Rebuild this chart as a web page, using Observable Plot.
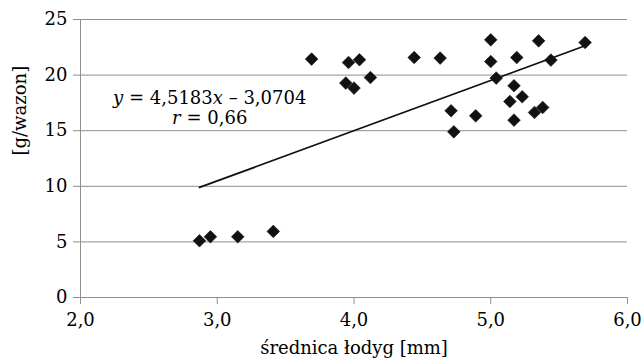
<!DOCTYPE html>
<html lang="pl">
<head>
<meta charset="utf-8">
<script src="https://cdn.jsdelivr.net/npm/d3@7"></script>
<script src="https://cdn.jsdelivr.net/npm/@observablehq/plot@0.6"></script>
<style>
  html, body { margin: 0; padding: 0; background: #fff; }
  #chart svg { display: block; }
</style>
</head>
<body>
<div id="chart"></div>
<script>
// Stem diameter [mm] and plant mass [g/pot] for each pot
const diameter = [
  2.87, 2.95, 3.15, 3.41,
  3.69, 3.94, 3.96, 4.00, 4.04, 4.12,
  4.44, 4.63,
  4.71, 4.73, 4.89,
  5.00, 5.00, 5.04,
  5.14, 5.17, 5.17, 5.19, 5.23,
  5.32, 5.35, 5.38, 5.44,
  5.69
];
const mass = [
  5.10, 5.46, 5.46, 5.94,
  21.44, 19.28, 21.13, 18.83, 21.38, 19.78,
  21.58, 21.53,
  16.79, 14.90, 16.34,
  23.17, 21.22, 19.73,
  17.63, 19.04, 15.95, 21.58, 18.05,
  16.64, 23.08, 17.09, 21.35,
  22.93
];

// Linear regression y = slope·x + intercept and correlation coefficient
const slope = 4.5183;
const intercept = -3.0704;
const corr = 0.66;

// Axis ticks
const xTicks = [2, 3, 4, 5, 6];
const yTicks = [0, 5, 10, 15, 20, 25];

const xTitle = "średnica łodyg [mm]";
const yTitle = "[g/wazon]";

const points = diameter.map((d, i) => ({x: d, y: mass[i]}));
const xMin = d3.min(diameter), xMax = d3.max(diameter);
const trend = [xMin, xMax].map(x => ({x, y: slope * x + intercept}));

const comma = (v, digits) => v.toFixed(digits).replace(".", ",");
const eqLine1 = `y = ${comma(slope, 4)}x – ${comma(-intercept, 4)}`;
const eqLine2 = `r = ${comma(corr, 2)}`;

const font = "DejaVu Serif";
const gray = "#8e8e8e";

const chart = Plot.plot({
  width: 642,
  height: 364,
  marginLeft: 80,
  marginRight: 15,
  marginTop: 19,
  marginBottom: 67,
  style: {fontFamily: font, background: "#fff", color: "#000"},
  x: {domain: [2, 6]},
  y: {domain: [0, 25]},
  marks: [
    Plot.gridY(yTicks, {stroke: gray, strokeOpacity: 1, strokeWidth: 1}),
    Plot.ruleX([2], {stroke: gray, strokeWidth: 1}),
    Plot.ruleY([0], {stroke: gray, strokeWidth: 1}),
    Plot.axisY(yTicks, {
      tickSize: 7, tickPadding: 6, stroke: gray, fill: "#000",
      fontSize: 18, label: null
    }),
    Plot.axisX(xTicks, {
      tickSize: 7, tickPadding: 9, stroke: gray, fill: "#000",
      fontSize: 18, label: null, tickFormat: d => comma(d, 1)
    }),
    Plot.line(trend, {x: "x", y: "y", stroke: "#111", strokeWidth: 1.8}),
    Plot.dot(points, {
      x: "x", y: "y", symbol: "diamond2", r: 5.7,
      fill: "#111", stroke: "#111", strokeWidth: 0.6
    }),
    Plot.text([eqLine1], {x: 2.945, y: 17.96, fontSize: 18, fill: "#000"}),
    Plot.text([eqLine2], {x: 2.945, y: 16.16, fontSize: 18, fill: "#000"}),
    Plot.text([xTitle], {frameAnchor: "bottom", dy: 56, fontSize: 18, fill: "#000"}),
    Plot.text([yTitle], {frameAnchor: "left", rotate: -90, dx: -60, dy: -3, fontSize: 18, fill: "#000"})
  ]
});

// Set the variable letters of the regression label in italics
d3.select(chart).selectAll("text")
  .filter(function() { return this.textContent === eqLine1 || this.textContent === eqLine2; })
  .each(function() {
    const s = this.textContent;
    this.textContent = "";
    s.split(/([a-z])/).forEach(part => {
      if (!part) return;
      const t = document.createElementNS("http://www.w3.org/2000/svg", "tspan");
      t.textContent = part;
      if (/^[a-z]$/.test(part)) t.setAttribute("font-style", "italic");
      this.appendChild(t);
    });
  });

document.getElementById("chart").appendChild(chart);
</script>
</body>
</html>
